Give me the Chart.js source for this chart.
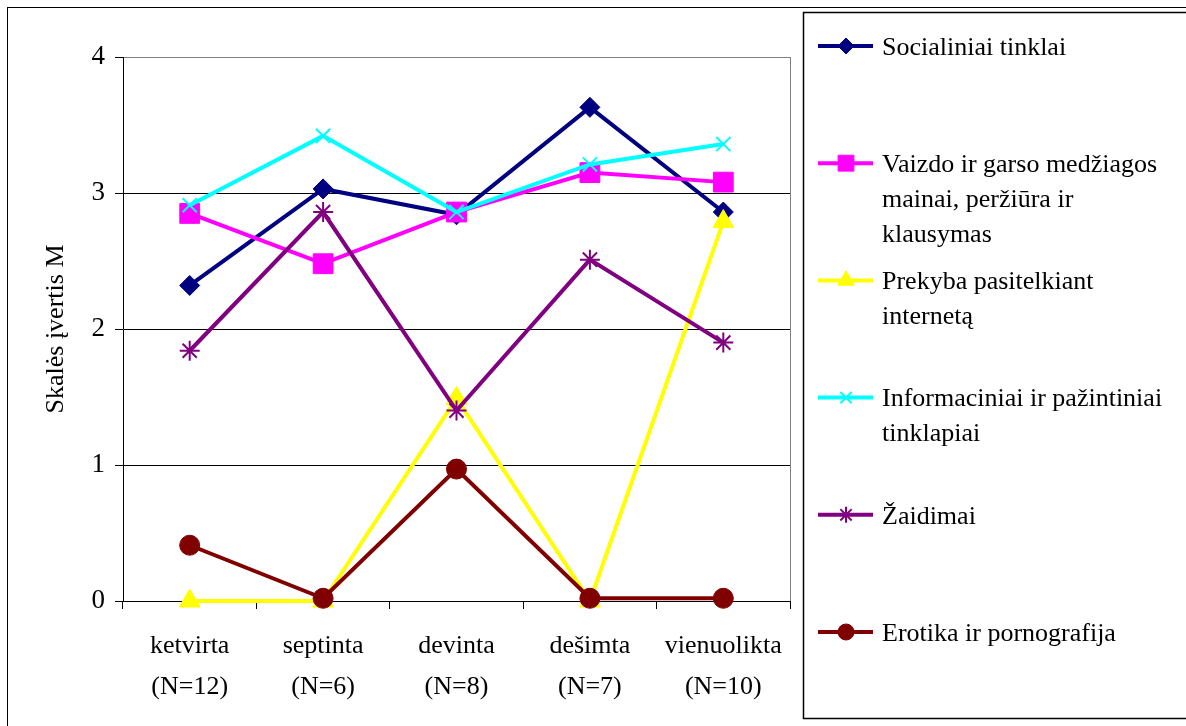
<!DOCTYPE html>
<html lang="lt">
<head>
    <meta charset="UTF-8">
    <title>Skalės įvertis</title>
    <script src="https://cdn.jsdelivr.net/npm/chart.js"></script>
    <style>
        body { margin: 0; background: #fff; }
        #chart { display: block; }
    </style>
</head>
<body>
    <canvas id="chart" width="1186" height="726"></canvas>

    <script>
        // data
        const grades = [['ketvirta', '(N=12)'], ['septinta', '(N=6)'], ['devinta', '(N=8)'], ['dešimta', '(N=7)'], ['vienuolikta', '(N=10)']];
        const yTicks = [0, 1, 2, 3, 4];
        const axisTitle = 'Skalės įvertis M';

        const seriesNames = [
            ['Socialiniai tinklai'],
            ['Vaizdo ir garso medžiagos', 'mainai, peržiūra ir', 'klausymas'],
            ['Prekyba pasitelkiant', 'internetą'],
            ['Informaciniai ir pažintiniai', 'tinklapiai'],
            ['Žaidimai'],
            ['Erotika ir pornografija']
        ];
        const socialiniai = [2.32, 3.03, 2.84, 3.63, 2.86];
        const vaizdo = [2.85, 2.48, 2.86, 3.15, 3.08];
        const prekyba = [0, 0, 1.49, 0, 2.79];
        const informaciniai = [2.91, 3.42, 2.86, 3.21, 3.36];
        const zaidimai = [1.84, 2.86, 1.40, 2.51, 1.90];
        const erotika = [0.41, 0.02, 0.97, 0.02, 0.02];

        const seriesValues = [socialiniai, vaizdo, prekyba, informaciniai, zaidimai, erotika];
        const colors = ['#000080', '#FF00FF', '#FFFF00', '#00FFFF', '#800080', '#800000'];
        const markers = ['rectRot', 'rect', 'triangle', 'crossRot', 'star', 'circle'];
        const markerSize = [10, 14, 12, 10, 10, 10];

        const serif = "'Liberation Serif', 'Times New Roman', serif";

        const datasets = seriesValues.map((vals, i) => ({
            label: seriesNames[i].join(' '),
            data: vals,
            borderColor: colors[i],
            backgroundColor: colors[i],
            borderWidth: 4,
            pointStyle: markers[i],
            pointRadius: markerSize[i],
            pointBorderWidth: (markers[i] === 'crossRot' || markers[i] === 'star') ? 2 : 1,
            pointBackgroundColor: colors[i],
            pointBorderColor: colors[i],
            tension: 0,
            clip: false,
            order: seriesValues.length - i // later series on top, like the original
        }));

        // frame, plot border and the boxed legend on the right
        const framePlugin = {
            id: 'frame',
            beforeDatasetsDraw(chart) {
                const c = chart.ctx, a = chart.chartArea;
                c.save();
                c.strokeStyle = '#808080';
                c.lineWidth = 1;
                c.beginPath();
                c.moveTo(a.right + 0.5, a.top);
                c.lineTo(a.right + 0.5, a.bottom);
                c.stroke();
                c.restore();
            },
            afterDraw(chart) {
                const c = chart.ctx;
                c.save();
                c.strokeStyle = '#000';
                c.lineWidth = 1;
                c.strokeRect(7.5, 7.5, 1186, 730);
                c.lineWidth = 1.5;
                c.strokeRect(803.5, 12.5, 390, 706);

                c.font = '26px ' + serif;
                c.fillStyle = '#000';
                c.textBaseline = 'middle';
                const step = 117.2;
                seriesNames.forEach((lines, i) => {
                    const y = 46 + i * step;
                    c.strokeStyle = colors[i];
                    c.lineWidth = 4;
                    c.beginPath();
                    c.moveTo(818, y);
                    c.lineTo(873, y);
                    c.stroke();
                    c.fillStyle = colors[i];
                    c.strokeStyle = colors[i];
                    c.lineWidth = datasets[i].pointBorderWidth;
                    Chart.helpers.drawPoint(c, {
                        pointStyle: markers[i],
                        radius: markerSize[i] * 0.8,
                        borderWidth: datasets[i].pointBorderWidth
                    }, 846, y);
                    c.fillStyle = '#000';
                    lines.forEach((t, k) => c.fillText(t, 882, y + 2 + k * 35));
                });
                c.restore();
            }
        };

        const ctx = document.getElementById('chart').getContext('2d');
        const chart = new Chart(ctx, {
            type: 'line',
            data: { labels: grades, datasets: datasets },
            options: {
                responsive: false,
                animation: false,
                layout: { padding: { top: 57, right: 396, bottom: 0, left: 0 } },
                plugins: {
                    legend: { display: false },
                    tooltip: { enabled: false }
                },
                scales: {
                    x: {
                        offset: true,
                        grid: {
                            offset: true,
                            drawOnChartArea: false,
                            color: '#000',
                            tickLength: 8
                        },
                        border: { color: '#000', width: 1 },
                        ticks: {
                            color: '#000',
                            padding: 17,
                            maxRotation: 0,
                            autoSkip: false,
                            font: { family: serif, size: 26, lineHeight: 1.58 }
                        },
                        afterFit(scale) { scale.height = 125; }
                    },
                    y: {
                        min: yTicks[0],
                        max: yTicks[yTicks.length - 1],
                        afterBuildTicks(scale) { scale.ticks = yTicks.map(v => ({ value: v })); },
                        grid: {
                            color: c => (c.tick && c.tick.value === 4) ? '#808080' : '#000',
                            tickColor: '#000',
                            tickLength: 8,
                            lineWidth: 1
                        },
                        border: { color: '#000', width: 1 },
                        ticks: {
                            color: '#000',
                            padding: 10,
                            font: { family: serif, size: 27 }
                        },
                        title: {
                            display: true,
                            text: axisTitle,
                            color: '#000',
                            padding: { top: 41, bottom: 0 },
                            font: { family: serif, size: 26 }
                        },
                        afterFit(scale) { scale.width = 123; }
                    }
                }
            },
            plugins: [framePlugin]
        });
    </script>
</body>
</html>
